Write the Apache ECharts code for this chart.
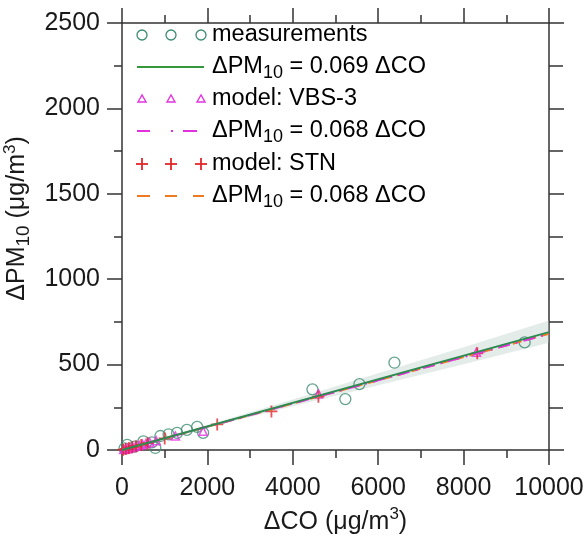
<!DOCTYPE html>
<html>
<head>
<meta charset="utf-8">
<script src="https://cdn.jsdelivr.net/npm/echarts@6/dist/echarts.min.js"></script>
<style>
  html, body { margin: 0; padding: 0; background: #fff; }
  #main { width: 587px; height: 536px; }
</style>
</head>
<body>
<div id="main"></div>
<script>
// measurements (open circles)
var measX = [60, 120, 300, 500, 700, 780, 900, 1090, 1290, 1520, 1760, 1900, 4460, 5230, 5560, 6380, 9430];
var measY = [10, 30, 20, 50, 45, 12, 82, 92, 100, 118, 135, 100, 355, 298, 386, 511, 630];

// model VBS-3 (triangles)
var vbsX = [40, 80, 130, 180, 250, 320, 400, 480, 560, 650, 800, 1250, 1900, 4600, 8300];
var vbsY = [3, 6, 8, 12, 17, 22, 27, 33, 38, 44, 54, 82, 110, 328, 572];

// model STN (plus)
var stnX = [30, 90, 160, 240, 330, 450, 600, 1000, 2230, 3500, 4600, 8320];
var stnY = [2, 6, 11, 16, 22, 30, 40, 68, 150, 226, 312, 566];

// regression lines
var fitX = [0, 10000];
var measFit = [0, 690];
var vbsFit = [0, 680];
var stnFit = [0, 680];

// confidence band of measurement fit
var bandX = [0, 2000, 4000, 6000, 8000, 10000];
var bandLo = [0, 130, 256, 379, 502, 628];
var bandHi = [8, 146, 296, 449, 602, 758];

var xTicks = [0, 2000, 4000, 6000, 8000, 10000];
var yTicks = [0, 500, 1000, 1500, 2000, 2500];

function zip(a, b) {
  return a.map(function (v, i) { return [v, b[i]]; });
}

var FONT = 'Liberation Sans';
var axisCol = '#333';
var green = '#35983c';
var teal = '#3d8c72';
var magenta = '#e232e0';
var red = '#e3262b';
var orange = '#f07a22';

var nameRich = {
  n: { fontSize: 25, fontFamily: FONT, color: '#1a1a1a', lineHeight: 32, verticalAlign: 'middle' },
  s: { fontSize: 19, fontFamily: FONT, color: '#1a1a1a', lineHeight: 32, verticalAlign: 'bottom' },
  p: { fontSize: 17, fontFamily: FONT, color: '#1a1a1a', lineHeight: 32, verticalAlign: 'top' }
};

function legRich(col) {
  return {
    n: { fontSize: 23.5, fontFamily: FONT, color: col, lineHeight: 30, verticalAlign: 'middle' },
    s: { fontSize: 18, fontFamily: FONT, color: col, lineHeight: 30, verticalAlign: 'bottom' }
  };
}

var symX = [142, 171, 201];
var rowY = [35, 67, 99, 131, 164, 196];
var textX = 212;

var graphics = [];
// row 1: circles
symX.forEach(function (x) {
  graphics.push({ type: 'circle', shape: { cx: x, cy: rowY[0], r: 5 },
    style: { fill: 'none', stroke: teal, lineWidth: 1.3 } });
});
// row 2: solid green line
graphics.push({ type: 'line', shape: { x1: 137, y1: rowY[1], x2: 204, y2: rowY[1] },
  style: { stroke: green, lineWidth: 2 } });
// row 3: triangles
symX.forEach(function (x) {
  var y = rowY[2];
  graphics.push({ type: 'polygon', shape: { points: [[x, y - 4], [x - 4, y + 3], [x + 4, y + 3]] },
    style: { fill: 'none', stroke: magenta, lineWidth: 1.4 } });
});
// row 4: dash-dot magenta
graphics.push({ type: 'line', shape: { x1: 137, y1: rowY[3], x2: 150, y2: rowY[3] }, style: { stroke: magenta, lineWidth: 2 } });
graphics.push({ type: 'line', shape: { x1: 171, y1: rowY[3], x2: 173, y2: rowY[3] }, style: { stroke: magenta, lineWidth: 2 } });
graphics.push({ type: 'line', shape: { x1: 183, y1: rowY[3], x2: 197, y2: rowY[3] }, style: { stroke: magenta, lineWidth: 2 } });
// row 5: plus
symX.forEach(function (x) {
  var y = rowY[4];
  graphics.push({ type: 'line', shape: { x1: x - 6, y1: y, x2: x + 6, y2: y }, style: { stroke: red, lineWidth: 1.8 } });
  graphics.push({ type: 'line', shape: { x1: x, y1: y - 6, x2: x, y2: y + 6 }, style: { stroke: red, lineWidth: 1.8 } });
});
// row 6: dashed orange
[[137, 150], [165, 177], [193, 204]].forEach(function (d) {
  graphics.push({ type: 'line', shape: { x1: d[0], y1: rowY[5], x2: d[1], y2: rowY[5] }, style: { stroke: orange, lineWidth: 2 } });
});

var legTexts = [
  ['{n|measurements}', green],
  ['{n|ΔPM}{s|10}{n| = 0.069 ΔCO}', green],
  ['{n|model: VBS-3}', magenta],
  ['{n|ΔPM}{s|10}{n| = 0.068 ΔCO}', magenta],
  ['{n|model: STN}', red],
  ['{n|ΔPM}{s|10}{n| = 0.068 ΔCO}', red]
];
legTexts.forEach(function (t, i) {
  graphics.push({ type: 'text', x: textX, y: rowY[i],
    style: { text: t[0], rich: legRich(t[1]), verticalAlign: 'middle', align: 'left' } });
});

function baseAxis(extra) {
  var ax = {
    type: 'value',
    axisLine: { show: true, onZero: false, lineStyle: { color: axisCol, width: 1.5 } },
    axisTick: { show: true, inside: false, length: 15, lineStyle: { color: axisCol, width: 1.5 } },
    minorTick: { show: true, splitNumber: 2, length: 8, lineStyle: { color: axisCol, width: 1.5 } },
    splitLine: { show: false },
    minorSplitLine: { show: false },
    axisLabel: { show: false }
  };
  for (var k in extra) ax[k] = extra[k];
  return ax;
}

var chart = echarts.init(document.getElementById('main'));
chart.setOption({
  animation: false,
  backgroundColor: '#fff',
  grid: { left: 122, right: 38, top: 23, bottom: 86, containLabel: false, outerBoundsMode: 'none' },
  xAxis: [
    baseAxis({
      position: 'bottom', min: 0, max: 10000, interval: 2000,
      axisLabel: { show: true, fontSize: 25, fontFamily: FONT, color: '#1a1a1a', margin: 26,
        formatter: function (v) { return xTicks.indexOf(v) >= 0 ? String(v) : ''; } },
      name: '{n|ΔCO (μg/m}{p|3}{n|)}',
      nameLocation: 'middle', nameGap: 54,
      nameTextStyle: { rich: nameRich }
    }),
    baseAxis({ position: 'top', min: 0, max: 10000, interval: 2000 })
  ],
  yAxis: [
    baseAxis({
      position: 'left', min: 0, max: 2500, interval: 500,
      axisLabel: { show: true, fontSize: 25, fontFamily: FONT, color: '#1a1a1a', margin: 22,
        formatter: function (v) { return yTicks.indexOf(v) >= 0 ? String(v) : ''; } },
      name: '{n|ΔPM}{s|10}{n| (μg/m}{p|3}{n|)}',
      nameLocation: 'middle', nameGap: 73, nameRotate: 90,
      nameTextStyle: { rich: nameRich, padding: [0, 0, 0, 36] }
    }),
    baseAxis({ position: 'right', min: 0, max: 2500, interval: 500,
      minorTick: { show: true, splitNumber: 2, length: 14, lineStyle: { color: axisCol, width: 1.5 } } })
  ],
  graphic: graphics,
  series: [
    {
      type: 'custom',
      xAxisIndex: 0, yAxisIndex: 0,
      clip: true,
      data: [[0, 0]],
      renderItem: function (params, api) {
        var pts = [];
        bandX.forEach(function (x, i) { pts.push(api.coord([x, bandHi[i]])); });
        for (var i = bandX.length - 1; i >= 0; i--) pts.push(api.coord([bandX[i], bandLo[i]]));
        return { type: 'polygon', shape: { points: pts },
          style: { fill: 'rgba(175,200,192,0.35)', stroke: 'none' } };
      },
      z: 1
    },
    {
      name: 'measurements', type: 'scatter', data: zip(measX, measY),
      symbol: 'circle', symbolSize: 11,
      itemStyle: { color: 'rgba(0,0,0,0)', borderColor: teal, borderWidth: 1.3 },
      z: 3
    },
    {
      name: 'model: VBS-3', type: 'scatter', data: zip(vbsX, vbsY),
      symbol: 'triangle', symbolSize: 8,
      itemStyle: { color: 'rgba(0,0,0,0)', borderColor: magenta, borderWidth: 1.6 },
      z: 3
    },
    {
      name: 'model: STN', type: 'scatter', data: zip(stnX, stnY),
      symbol: 'path://M5,0L5,10M0,5L10,5', symbolSize: 12,
      itemStyle: { color: 'rgba(0,0,0,0)', borderColor: red, borderWidth: 1.8 },
      z: 3
    },
    {
      type: 'line', data: zip(fitX, stnFit), showSymbol: false, symbol: 'none',
      lineStyle: { color: orange, width: 2, type: [9, 6] }, z: 4
    },
    {
      type: 'line', data: zip(fitX, vbsFit), showSymbol: false, symbol: 'none',
      lineStyle: { color: magenta, width: 2, type: [12, 6, 2, 6] }, z: 4
    },
    {
      type: 'line', data: zip(fitX, measFit), showSymbol: false, symbol: 'none',
      lineStyle: { color: '#2c8a50', width: 2 }, z: 5
    }
  ]
});
</script>
</body>
</html>
